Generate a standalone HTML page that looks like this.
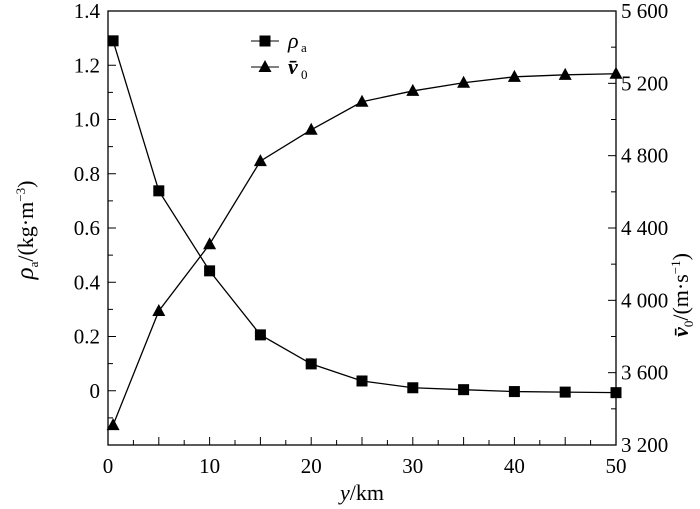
<!DOCTYPE html>
<html><head><meta charset="utf-8"><style>
body{margin:0;background:#fff}
svg{display:block;font-family:"Liberation Serif",serif}
</style></head><body>
<svg id="c" width="700" height="509">
<g id="g"></g>
</svg>
<script>
const xs=[0.5,5,10,15,20,25,30,35,40,45,50];
const rho=[1.29,0.737,0.442,0.206,0.099,0.036,0.011,0.004,-0.003,-0.005,-0.007];
const vel=[3310,3941,4310,4770,4943,5098,5158,5203,5236,5247,5253];
const xTicks=[0,10,20,30,40,50];
const yLTicks=[0,0.2,0.4,0.6,0.8,1.0,1.2,1.4];
const yLLabels=["0","0.2","0.4","0.6","0.8","1.0","1.2","1.4"];
const yRTicks=[3200,3600,4000,4400,4800,5200,5600];
const yRLabels=["3 200","3 600","4 000","4 400","4 800","5 200","5 600"];
const L=108,R=616,T=11,B=445;
const sx=v=>L+(v-0)/50*(R-L);
const syL=v=>B-(v+0.2)/1.6*(B-T);
const syR=v=>B-(v-3200)/2400*(B-T);
const NS="http://www.w3.org/2000/svg";
const g=document.getElementById('g');
function mk(t,a,txt){const e=document.createElementNS(NS,t);for(const k in a)e.setAttribute(k,a[k]);if(txt!==undefined)e.textContent=txt;g.appendChild(e);return e;}
let fr=mk('rect',{x:L,y:T,width:R-L,height:B-T,fill:'none',stroke:'#000','stroke-width':1.3});

for(let v=0;v<=50;v+=2.5){const len=(v%5===0)?8:5;mk('line',{x1:sx(v),x2:sx(v),y1:B,y2:B-len,stroke:'#000'});}
xTicks.forEach(v=>{const t=mk('text',{x:sx(v),y:B+28,'font-size':21,'text-anchor':'middle'},String(v));
});
for(let v=-0.2;v<=1.401;v+=0.1){const y=syL(v);const maj=Math.round(v*10)%2===0;mk('line',{x1:L,x2:L+(maj?8:5),y1:y,y2:y,stroke:'#000'});}
yLTicks.forEach((v,i)=>{const t=mk('text',{x:L-8,y:syL(v)+7,'font-size':21,'text-anchor':'end'},yLLabels[i]);
});
for(let v=3200;v<=5600;v+=200){const y=syR(v);const maj=v%400===0;mk('line',{x1:R,x2:R-(maj?8:5),y1:y,y2:y,stroke:'#000'});}
yRTicks.forEach((v,i)=>{const t=mk('text',{x:R+5,y:syR(v)+7,'font-size':21},yRLabels[i]);
});
let p1=mk('polyline',{points:xs.map((x,i)=>sx(x)+','+syL(rho[i])).join(' '),fill:'none',stroke:'#000','stroke-width':1.3});

let p2=mk('polyline',{points:xs.map((x,i)=>sx(x)+','+syR(vel[i])).join(' '),fill:'none',stroke:'#000','stroke-width':1.3});

xs.forEach((x,i)=>{const s=mk('rect',{x:sx(x)-5.5,y:syL(rho[i])-5.5,width:11,height:11,fill:'#000'});

const cx=sx(x),cy=syR(vel[i]);const tr=mk('polygon',{points:`${cx},${cy-7} ${cx-6.5},${cy+5} ${cx+6.5},${cy+5}`,fill:'#000'});
});
mk('line',{x1:251,x2:279,y1:41,y2:41,stroke:'#000'});mk('rect',{x:259.5,y:35.5,width:11,height:11,fill:'#000'});
mk('line',{x1:251,x2:279,y1:67,y2:67,stroke:'#000'});mk('polygon',{points:'265,60 258.5,72 271.5,72',fill:'#000'});
let l1=mk('text',{x:288,y:48,'font-size':22,'font-style':'italic'},'ρ');
mk('text',{x:301,y:52,'font-size':13},'a');
let l2=mk('text',{x:288,y:74,'font-size':22,'font-style':'italic','font-weight':'bold'},'v̄');
mk('text',{x:301,y:79,'font-size':13},'0');
let xt=mk('text',{x:362,y:500,'font-size':22,'text-anchor':'middle'});xt.innerHTML='<tspan font-style="italic">y</tspan>/km';

let yl=mk('text',{transform:'translate(33,230) rotate(-90)','font-size':22,'text-anchor':'middle'});
yl.innerHTML='<tspan font-style="italic" font-size="25">ρ</tspan><tspan font-size="13" dy="5">a</tspan><tspan dy="-5">/(kg·m</tspan><tspan font-size="13" dy="-8">−3</tspan><tspan dy="8">)</tspan>';

let yr=mk('text',{transform:'translate(688,295) rotate(-90)','font-size':22,'text-anchor':'middle'});
yr.innerHTML='<tspan font-style="italic" font-weight="bold">v̄</tspan><tspan font-size="13" dy="5">0</tspan><tspan dy="-5">/(m·s</tspan><tspan font-size="13" dy="-8">−1</tspan><tspan dy="8">)</tspan>';

</script>
</body></html>
